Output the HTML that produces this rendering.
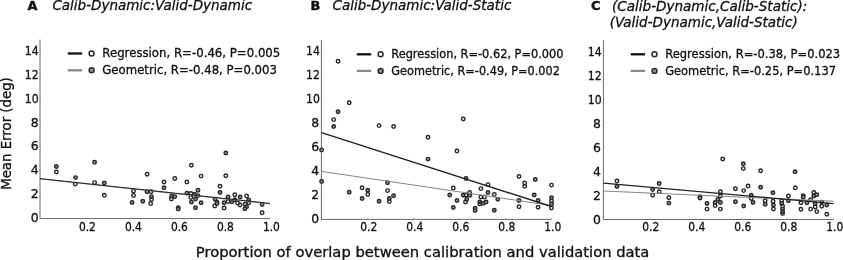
<!DOCTYPE html>
<html lang="en">
<head>
<meta charset="utf-8">
<title>Mean error vs. proportion of overlap between calibration and validation data</title>
<style>
html,body{margin:0;padding:0;background:#fff;}
body{width:843px;height:260px;overflow:hidden;}
svg{display:block;will-change:transform;}
text{font-family:"DejaVu Sans","Liberation Sans",sans-serif;fill:#111;stroke:#111;stroke-width:0.3px;}
.yt{font-size:12.4px;}
.xt{font-size:12px;}
.pl{font-family:"DejaVu Sans","Liberation Sans",sans-serif;font-weight:bold;font-size:12.8px;stroke-width:0.45px;}
.tt{font-style:italic;font-size:13.5px;}
.lg{font-size:11.7px;}
.xl{font-size:14px;}
.yl{font-size:13.3px;}
</style>
</head>
<body>
<svg width="843" height="260" viewBox="0 0 843 260">
<rect width="843" height="260" fill="#fff"/>
<g class="panel">
<path d="M40.0 39.6V218.6H270.0" fill="none" stroke="#686868" stroke-width="1"/>
<path d="M40.0 194.7h1.2 M40.0 170.9h1.2 M40.0 147.0h1.2 M40.0 123.2h1.2 M40.0 99.3h1.2 M40.0 75.4h1.2 M40.0 51.6h1.2 M86.0 218.6v-1.3 M132.0 218.6v-1.3 M178.0 218.6v-1.3 M224.0 218.6v-1.3 M270.0 218.6v-1.3" stroke="#999" stroke-width="0.7" fill="none"/>
<text class="yt" x="38.6" y="222.0" text-anchor="end">0</text>
<text class="yt" x="38.6" y="198.1" text-anchor="end">2</text>
<text class="yt" x="38.6" y="174.3" text-anchor="end">4</text>
<text class="yt" x="38.6" y="150.4" text-anchor="end">6</text>
<text class="yt" x="38.6" y="126.6" text-anchor="end">8</text>
<text class="yt" x="38.6" y="102.7" text-anchor="end" textLength="13.9" lengthAdjust="spacingAndGlyphs">10</text>
<text class="yt" x="38.6" y="78.8" text-anchor="end" textLength="13.9" lengthAdjust="spacingAndGlyphs">12</text>
<text class="yt" x="38.6" y="55.0" text-anchor="end" textLength="13.9" lengthAdjust="spacingAndGlyphs">14</text>
<text class="xt" x="87.4" y="230.5" text-anchor="middle" textLength="17" lengthAdjust="spacingAndGlyphs">0.2</text>
<text class="xt" x="133.4" y="230.5" text-anchor="middle" textLength="17" lengthAdjust="spacingAndGlyphs">0.4</text>
<text class="xt" x="179.4" y="230.5" text-anchor="middle" textLength="17" lengthAdjust="spacingAndGlyphs">0.6</text>
<text class="xt" x="225.4" y="230.5" text-anchor="middle" textLength="17" lengthAdjust="spacingAndGlyphs">0.8</text>
<text class="xt" x="271.4" y="230.5" text-anchor="middle" textLength="17" lengthAdjust="spacingAndGlyphs">1.0</text>
<text class="pl" x="27.4" y="10.35">A</text>
<text class="tt" x="52.4" y="10.3" textLength="199.8" lengthAdjust="spacingAndGlyphs">Calib-Dynamic:Valid-Dynamic</text>
<g stroke="#2a2a2a" stroke-width="1.45">
<circle cx="56.3" cy="166.5" r="1.75" fill="#959595"/>
<circle cx="56.3" cy="172" r="1.75" fill="none"/>
<circle cx="94.6" cy="162.2" r="1.75" fill="#959595"/>
<circle cx="75.6" cy="177.6" r="1.75" fill="#959595"/>
<circle cx="147.1" cy="174.2" r="1.75" fill="none"/>
<circle cx="94.6" cy="182.6" r="1.75" fill="none"/>
<circle cx="104.3" cy="182.9" r="1.75" fill="#959595"/>
<circle cx="75.2" cy="184.1" r="1.75" fill="none"/>
<circle cx="104.3" cy="195.2" r="1.75" fill="none"/>
<circle cx="133.5" cy="191" r="1.75" fill="none"/>
<circle cx="133.5" cy="195.5" r="1.75" fill="none"/>
<circle cx="132.1" cy="202.4" r="1.75" fill="#959595"/>
<circle cx="142.8" cy="201.2" r="1.75" fill="#959595"/>
<circle cx="147" cy="191.7" r="1.75" fill="#959595"/>
<circle cx="151.1" cy="191.7" r="1.75" fill="none"/>
<circle cx="151.5" cy="196.6" r="1.75" fill="#959595"/>
<circle cx="151.5" cy="199.4" r="1.75" fill="none"/>
<circle cx="150.7" cy="203.5" r="1.75" fill="none"/>
<circle cx="225.8" cy="152.9" r="1.75" fill="#959595"/>
<circle cx="191.4" cy="165.2" r="1.75" fill="none"/>
<circle cx="201.1" cy="176.1" r="1.75" fill="none"/>
<circle cx="225.8" cy="175.8" r="1.75" fill="none"/>
<circle cx="174.8" cy="178.5" r="1.75" fill="none"/>
<circle cx="164" cy="181.9" r="1.75" fill="none"/>
<circle cx="186.9" cy="181.9" r="1.75" fill="none"/>
<circle cx="164" cy="187.8" r="1.75" fill="#959595"/>
<circle cx="220" cy="186.2" r="1.75" fill="none"/>
<circle cx="220" cy="192.4" r="1.75" fill="#959595"/>
<circle cx="198" cy="190.3" r="1.75" fill="#959595"/>
<circle cx="186.9" cy="193.1" r="1.75" fill="#959595"/>
<circle cx="190.8" cy="193.4" r="1.75" fill="none"/>
<circle cx="194.6" cy="194.2" r="1.75" fill="#959595"/>
<circle cx="198" cy="195.6" r="1.75" fill="none"/>
<circle cx="190.8" cy="197.5" r="1.75" fill="none"/>
<circle cx="195.5" cy="198.9" r="1.75" fill="#959595"/>
<circle cx="191.4" cy="202.1" r="1.75" fill="#959595"/>
<circle cx="201.1" cy="202.8" r="1.75" fill="#959595"/>
<circle cx="195.5" cy="207.7" r="1.75" fill="#959595"/>
<circle cx="171.7" cy="195.9" r="1.75" fill="#959595"/>
<circle cx="174.8" cy="196.6" r="1.75" fill="#959595"/>
<circle cx="171.4" cy="198.9" r="1.75" fill="none"/>
<circle cx="178.2" cy="207.7" r="1.75" fill="#959595"/>
<circle cx="178.2" cy="209" r="1.75" fill="#959595"/>
<circle cx="215" cy="199.3" r="1.75" fill="#959595"/>
<circle cx="217" cy="202.1" r="1.75" fill="none"/>
<circle cx="217" cy="203.5" r="1.75" fill="#959595"/>
<circle cx="214.7" cy="205.9" r="1.75" fill="none"/>
<circle cx="224.1" cy="202.8" r="1.75" fill="#959595"/>
<circle cx="224.1" cy="208" r="1.75" fill="none"/>
<circle cx="228.1" cy="197" r="1.75" fill="#959595"/>
<circle cx="228.1" cy="201.4" r="1.75" fill="none"/>
<circle cx="231.8" cy="201.8" r="1.75" fill="#959595"/>
<circle cx="234.8" cy="194.8" r="1.75" fill="none"/>
<circle cx="234.8" cy="199.8" r="1.75" fill="#959595"/>
<circle cx="237.6" cy="203.1" r="1.75" fill="none"/>
<circle cx="240.1" cy="197" r="1.75" fill="#959595"/>
<circle cx="240.1" cy="204.9" r="1.75" fill="none"/>
<circle cx="246.6" cy="195.9" r="1.75" fill="none"/>
<circle cx="248.7" cy="200" r="1.75" fill="#959595"/>
<circle cx="248.7" cy="202.8" r="1.75" fill="none"/>
<circle cx="245.2" cy="204.2" r="1.75" fill="none"/>
<circle cx="246.6" cy="206.7" r="1.75" fill="#959595"/>
<circle cx="244.9" cy="208.8" r="1.75" fill="#959595"/>
<circle cx="262.1" cy="204.5" r="1.75" fill="#959595"/>
<circle cx="262.1" cy="212.8" r="1.75" fill="none"/>
</g>
<line x1="40" y1="178.9" x2="270" y2="203.9" stroke="#858585" stroke-width="1"/>
<line x1="40" y1="178.6" x2="270" y2="203.4" stroke="#222" stroke-width="1.0"/>
<line x1="67.8" y1="53.5" x2="82.2" y2="53.5" stroke="#111" stroke-width="2.3"/>
<line x1="67.8" y1="70.3" x2="82.2" y2="70.3" stroke="#8a8a8a" stroke-width="2.3"/>
<circle cx="91.6" cy="53.5" r="2.45" fill="#fff" stroke="#2a2a2a" stroke-width="1.5"/>
<circle cx="91.6" cy="70.3" r="2.45" fill="#959595" stroke="#2a2a2a" stroke-width="1.5"/>
<text class="lg" style="font-size:11.7px" x="102.3" y="57.1" textLength="178.0" lengthAdjust="spacingAndGlyphs">Regression, R=-0.46, P=0.005</text>
<text class="lg" style="font-size:11.7px" x="102.3" y="73.9" textLength="174.6" lengthAdjust="spacingAndGlyphs">Geometric, R=-0.48, P=0.003</text>
</g>
<g class="panel">
<path d="M321.4 40.1V219.4H551.4" fill="none" stroke="#686868" stroke-width="1"/>
<path d="M321.4 195.4h1.2 M321.4 171.3h1.2 M321.4 147.3h1.2 M321.4 123.2h1.2 M321.4 99.2h1.2 M321.4 75.2h1.2 M321.4 51.1h1.2 M367.4 219.4v-1.3 M413.4 219.4v-1.3 M459.4 219.4v-1.3 M505.4 219.4v-1.3 M551.4 219.4v-1.3" stroke="#999" stroke-width="0.7" fill="none"/>
<text class="yt" x="319.2" y="223.4" text-anchor="end">0</text>
<text class="yt" x="319.2" y="199.4" text-anchor="end">2</text>
<text class="yt" x="319.2" y="175.3" text-anchor="end">4</text>
<text class="yt" x="319.2" y="151.3" text-anchor="end">6</text>
<text class="yt" x="319.2" y="127.2" text-anchor="end">8</text>
<text class="yt" x="319.9" y="103.2" text-anchor="end" textLength="13.9" lengthAdjust="spacingAndGlyphs">10</text>
<text class="yt" x="319.9" y="79.2" text-anchor="end" textLength="13.9" lengthAdjust="spacingAndGlyphs">12</text>
<text class="yt" x="319.9" y="55.1" text-anchor="end" textLength="13.9" lengthAdjust="spacingAndGlyphs">14</text>
<text class="xt" x="368.8" y="230.5" text-anchor="middle" textLength="17" lengthAdjust="spacingAndGlyphs">0.2</text>
<text class="xt" x="414.8" y="230.5" text-anchor="middle" textLength="17" lengthAdjust="spacingAndGlyphs">0.4</text>
<text class="xt" x="460.8" y="230.5" text-anchor="middle" textLength="17" lengthAdjust="spacingAndGlyphs">0.6</text>
<text class="xt" x="506.8" y="230.5" text-anchor="middle" textLength="17" lengthAdjust="spacingAndGlyphs">0.8</text>
<text class="xt" x="552.8" y="230.5" text-anchor="middle" textLength="17" lengthAdjust="spacingAndGlyphs">1.0</text>
<text class="pl" x="310.4" y="10.35">B</text>
<text class="tt" x="332.5" y="10.3" textLength="178.8" lengthAdjust="spacingAndGlyphs">Calib-Dynamic:Valid-Static</text>
<g stroke="#2a2a2a" stroke-width="1.45">
<circle cx="338.1" cy="61.3" r="1.75" fill="none"/>
<circle cx="349.2" cy="102.8" r="1.75" fill="none"/>
<circle cx="338.1" cy="111.8" r="1.75" fill="#959595"/>
<circle cx="333.7" cy="119.6" r="1.75" fill="none"/>
<circle cx="333.7" cy="126.4" r="1.75" fill="#959595"/>
<circle cx="379.1" cy="125.6" r="1.75" fill="none"/>
<circle cx="393.6" cy="126.4" r="1.75" fill="none"/>
<circle cx="428" cy="137.2" r="1.75" fill="none"/>
<circle cx="321.6" cy="149.9" r="1.75" fill="none"/>
<circle cx="428" cy="159.1" r="1.75" fill="#959595"/>
<circle cx="321.6" cy="181.5" r="1.75" fill="#959595"/>
<circle cx="349.2" cy="192.2" r="1.75" fill="#959595"/>
<circle cx="362.1" cy="187.8" r="1.75" fill="none"/>
<circle cx="362.1" cy="198.5" r="1.75" fill="#959595"/>
<circle cx="367.8" cy="190.3" r="1.75" fill="#959595"/>
<circle cx="367.8" cy="194.5" r="1.75" fill="none"/>
<circle cx="379.1" cy="201.3" r="1.75" fill="#959595"/>
<circle cx="387.5" cy="182.7" r="1.75" fill="#959595"/>
<circle cx="387.5" cy="190.6" r="1.75" fill="none"/>
<circle cx="393.6" cy="195.7" r="1.75" fill="#959595"/>
<circle cx="389.3" cy="198.5" r="1.75" fill="#959595"/>
<circle cx="389.3" cy="201.6" r="1.75" fill="none"/>
<circle cx="463.3" cy="119" r="1.75" fill="none"/>
<circle cx="457" cy="150.9" r="1.75" fill="none"/>
<circle cx="466" cy="178.4" r="1.75" fill="#959595"/>
<circle cx="519" cy="176.5" r="1.75" fill="none"/>
<circle cx="535.3" cy="179.5" r="1.75" fill="#959595"/>
<circle cx="524.7" cy="183" r="1.75" fill="none"/>
<circle cx="524.7" cy="186.2" r="1.75" fill="none"/>
<circle cx="551.5" cy="185.1" r="1.75" fill="none"/>
<circle cx="488" cy="184.6" r="1.75" fill="none"/>
<circle cx="480.9" cy="188.6" r="1.75" fill="none"/>
<circle cx="453.3" cy="187.9" r="1.75" fill="none"/>
<circle cx="449.7" cy="194.9" r="1.75" fill="#959595"/>
<circle cx="457" cy="200.4" r="1.75" fill="#959595"/>
<circle cx="453.3" cy="207.5" r="1.75" fill="#959595"/>
<circle cx="463.3" cy="195.3" r="1.75" fill="#959595"/>
<circle cx="466" cy="195" r="1.75" fill="none"/>
<circle cx="469.6" cy="192.5" r="1.75" fill="none"/>
<circle cx="469.9" cy="195.3" r="1.75" fill="#959595"/>
<circle cx="466.7" cy="199.3" r="1.75" fill="#959595"/>
<circle cx="465.5" cy="202" r="1.75" fill="none"/>
<circle cx="475.1" cy="208.3" r="1.75" fill="#959595"/>
<circle cx="475.1" cy="210.6" r="1.75" fill="#959595"/>
<circle cx="480.9" cy="196.9" r="1.75" fill="none"/>
<circle cx="484.4" cy="196.9" r="1.75" fill="none"/>
<circle cx="488" cy="192.5" r="1.75" fill="#959595"/>
<circle cx="494.3" cy="194.5" r="1.75" fill="none"/>
<circle cx="497.8" cy="199.3" r="1.75" fill="#959595"/>
<circle cx="479.8" cy="202" r="1.75" fill="#959595"/>
<circle cx="479.8" cy="204" r="1.75" fill="none"/>
<circle cx="483.3" cy="203.2" r="1.75" fill="#959595"/>
<circle cx="486.1" cy="202" r="1.75" fill="#959595"/>
<circle cx="494.3" cy="210.3" r="1.75" fill="#959595"/>
<circle cx="519" cy="200.5" r="1.75" fill="#959595"/>
<circle cx="519" cy="206.7" r="1.75" fill="none"/>
<circle cx="534.2" cy="195" r="1.75" fill="#959595"/>
<circle cx="538.1" cy="200.5" r="1.75" fill="#959595"/>
<circle cx="538.1" cy="207.2" r="1.75" fill="none"/>
<circle cx="551.5" cy="197.7" r="1.75" fill="#959595"/>
<circle cx="551.5" cy="200.9" r="1.75" fill="none"/>
<circle cx="551.5" cy="204" r="1.75" fill="#959595"/>
<circle cx="551.5" cy="207.9" r="1.75" fill="none"/>
</g>
<line x1="321.5" y1="171.4" x2="551.5" y2="205.5" stroke="#858585" stroke-width="1"/>
<line x1="321.5" y1="132.6" x2="551.5" y2="206.5" stroke="#222" stroke-width="1.4"/>
<line x1="356.8" y1="54.3" x2="371.2" y2="54.3" stroke="#111" stroke-width="2.3"/>
<line x1="356.8" y1="70.9" x2="371.2" y2="70.9" stroke="#8a8a8a" stroke-width="2.3"/>
<circle cx="380.6" cy="54.3" r="2.45" fill="#fff" stroke="#2a2a2a" stroke-width="1.5"/>
<circle cx="380.6" cy="70.9" r="2.45" fill="#959595" stroke="#2a2a2a" stroke-width="1.5"/>
<text class="lg" style="font-size:11.4px" x="391.3" y="57.9" textLength="172.2" lengthAdjust="spacingAndGlyphs">Regression, R=-0.62, P=0.000</text>
<text class="lg" style="font-size:11.4px" x="391.3" y="74.5" textLength="168.6" lengthAdjust="spacingAndGlyphs">Geometric, R=-0.49, P=0.002</text>
</g>
<g class="panel">
<path d="M603.4 40.1V219.5H833.4" fill="none" stroke="#686868" stroke-width="1"/>
<path d="M603.4 195.5h1.2 M603.4 171.4h1.2 M603.4 147.4h1.2 M603.4 123.3h1.2 M603.4 99.3h1.2 M603.4 75.3h1.2 M603.4 51.2h1.2 M649.4 219.5v-1.3 M695.4 219.5v-1.3 M741.4 219.5v-1.3 M787.4 219.5v-1.3 M833.4 219.5v-1.3" stroke="#999" stroke-width="0.7" fill="none"/>
<text class="yt" x="600.9" y="223.8" text-anchor="end">0</text>
<text class="yt" x="600.9" y="199.8" text-anchor="end">2</text>
<text class="yt" x="600.9" y="175.7" text-anchor="end">4</text>
<text class="yt" x="600.9" y="151.7" text-anchor="end">6</text>
<text class="yt" x="600.9" y="127.6" text-anchor="end">8</text>
<text class="yt" x="601.6" y="103.6" text-anchor="end" textLength="13.9" lengthAdjust="spacingAndGlyphs">10</text>
<text class="yt" x="601.6" y="79.6" text-anchor="end" textLength="13.9" lengthAdjust="spacingAndGlyphs">12</text>
<text class="yt" x="601.6" y="55.5" text-anchor="end" textLength="13.9" lengthAdjust="spacingAndGlyphs">14</text>
<text class="xt" x="650.8" y="230.5" text-anchor="middle" textLength="17" lengthAdjust="spacingAndGlyphs">0.2</text>
<text class="xt" x="696.8" y="230.5" text-anchor="middle" textLength="17" lengthAdjust="spacingAndGlyphs">0.4</text>
<text class="xt" x="742.8" y="230.5" text-anchor="middle" textLength="17" lengthAdjust="spacingAndGlyphs">0.6</text>
<text class="xt" x="788.8" y="230.5" text-anchor="middle" textLength="17" lengthAdjust="spacingAndGlyphs">0.8</text>
<text class="xt" x="834.8" y="230.5" text-anchor="middle" textLength="17" lengthAdjust="spacingAndGlyphs">1.0</text>
<text class="pl" x="590.9" y="10.35">C</text>
<text class="tt" x="612.0" y="10.6" textLength="195.3" lengthAdjust="spacingAndGlyphs">(Calib-Dynamic,Calib-Static):</text>
<text class="tt" x="609.7" y="26.9" textLength="188.1" lengthAdjust="spacingAndGlyphs">(Valid-Dynamic,Valid-Static)</text>
<g stroke="#2a2a2a" stroke-width="1.45">
<circle cx="617" cy="181" r="1.75" fill="none"/>
<circle cx="617" cy="186.4" r="1.75" fill="#959595"/>
<circle cx="659.2" cy="183.4" r="1.75" fill="#959595"/>
<circle cx="652.7" cy="189.6" r="1.75" fill="#959595"/>
<circle cx="652.7" cy="195.2" r="1.75" fill="none"/>
<circle cx="659.2" cy="191.7" r="1.75" fill="none"/>
<circle cx="668.9" cy="197.7" r="1.75" fill="none"/>
<circle cx="668.9" cy="203.1" r="1.75" fill="#959595"/>
<circle cx="700" cy="196.6" r="1.75" fill="#959595"/>
<circle cx="700" cy="198" r="1.75" fill="#959595"/>
<circle cx="707" cy="203.5" r="1.75" fill="#959595"/>
<circle cx="707" cy="209.1" r="1.75" fill="none"/>
<circle cx="715.1" cy="202.4" r="1.75" fill="#959595"/>
<circle cx="715.1" cy="205.6" r="1.75" fill="none"/>
<circle cx="717.9" cy="199.3" r="1.75" fill="#959595"/>
<circle cx="722.7" cy="158.9" r="1.75" fill="none"/>
<circle cx="743.3" cy="163.8" r="1.75" fill="#959595"/>
<circle cx="743.3" cy="168.6" r="1.75" fill="none"/>
<circle cx="760.6" cy="170.7" r="1.75" fill="none"/>
<circle cx="795.1" cy="171.8" r="1.75" fill="#959595"/>
<circle cx="720.4" cy="191.7" r="1.75" fill="none"/>
<circle cx="720.4" cy="195.9" r="1.75" fill="none"/>
<circle cx="720.4" cy="202.5" r="1.75" fill="#959595"/>
<circle cx="720.4" cy="209.1" r="1.75" fill="none"/>
<circle cx="735.4" cy="188.7" r="1.75" fill="none"/>
<circle cx="735.4" cy="201.8" r="1.75" fill="#959595"/>
<circle cx="743.7" cy="190.6" r="1.75" fill="none"/>
<circle cx="743.7" cy="205.9" r="1.75" fill="#959595"/>
<circle cx="748.1" cy="185.9" r="1.75" fill="none"/>
<circle cx="751.2" cy="195.2" r="1.75" fill="#959595"/>
<circle cx="751.2" cy="198.4" r="1.75" fill="none"/>
<circle cx="753" cy="202.5" r="1.75" fill="#959595"/>
<circle cx="760.6" cy="187.3" r="1.75" fill="#959595"/>
<circle cx="765.2" cy="200.7" r="1.75" fill="none"/>
<circle cx="765.2" cy="204.2" r="1.75" fill="#959595"/>
<circle cx="772.9" cy="192.7" r="1.75" fill="#959595"/>
<circle cx="773.1" cy="201.3" r="1.75" fill="none"/>
<circle cx="773.4" cy="205.1" r="1.75" fill="#959595"/>
<circle cx="773.4" cy="208.9" r="1.75" fill="none"/>
<circle cx="781.7" cy="200.7" r="1.75" fill="none"/>
<circle cx="781.7" cy="203.5" r="1.75" fill="#959595"/>
<circle cx="782.6" cy="206.3" r="1.75" fill="none"/>
<circle cx="782.6" cy="209.1" r="1.75" fill="#959595"/>
<circle cx="782.6" cy="211.8" r="1.75" fill="none"/>
<circle cx="782.6" cy="213.6" r="1.75" fill="none"/>
<circle cx="788.4" cy="195.9" r="1.75" fill="none"/>
<circle cx="788.4" cy="200.7" r="1.75" fill="#959595"/>
<circle cx="795.3" cy="187.8" r="1.75" fill="none"/>
<circle cx="800.9" cy="202.8" r="1.75" fill="none"/>
<circle cx="800.9" cy="209.3" r="1.75" fill="none"/>
<circle cx="803.2" cy="195.6" r="1.75" fill="#959595"/>
<circle cx="803.2" cy="197.3" r="1.75" fill="#959595"/>
<circle cx="806.9" cy="202.8" r="1.75" fill="#959595"/>
<circle cx="810.6" cy="199.8" r="1.75" fill="none"/>
<circle cx="810.6" cy="209.1" r="1.75" fill="none"/>
<circle cx="813.8" cy="192.4" r="1.75" fill="none"/>
<circle cx="813.8" cy="195.9" r="1.75" fill="#959595"/>
<circle cx="816.8" cy="194.8" r="1.75" fill="#959595"/>
<circle cx="815.2" cy="203.5" r="1.75" fill="#959595"/>
<circle cx="815.2" cy="207" r="1.75" fill="none"/>
<circle cx="816.8" cy="211.6" r="1.75" fill="none"/>
<circle cx="821.7" cy="202.1" r="1.75" fill="#959595"/>
<circle cx="821.7" cy="206.3" r="1.75" fill="none"/>
<circle cx="826.8" cy="204.9" r="1.75" fill="#959595"/>
<circle cx="826.8" cy="214.2" r="1.75" fill="none"/>
</g>
<line x1="603.5" y1="191.0" x2="833.5" y2="201.2" stroke="#858585" stroke-width="1"/>
<line x1="603.5" y1="183.1" x2="833.5" y2="203.6" stroke="#222" stroke-width="1.25"/>
<line x1="630.6999999999999" y1="54.3" x2="645.1" y2="54.3" stroke="#111" stroke-width="2.3"/>
<line x1="630.6999999999999" y1="70.9" x2="645.1" y2="70.9" stroke="#8a8a8a" stroke-width="2.3"/>
<circle cx="654.5" cy="54.3" r="2.45" fill="#fff" stroke="#2a2a2a" stroke-width="1.5"/>
<circle cx="654.5" cy="70.9" r="2.45" fill="#959595" stroke="#2a2a2a" stroke-width="1.5"/>
<text class="lg" style="font-size:11.5px" x="665.1999999999999" y="57.9" textLength="175.0" lengthAdjust="spacingAndGlyphs">Regression, R=-0.38, P=0.023</text>
<text class="lg" style="font-size:11.5px" x="665.1999999999999" y="74.5" textLength="170.8" lengthAdjust="spacingAndGlyphs">Geometric, R=-0.25, P=0.137</text>
</g>
<text class="xl" x="195.8" y="256.6" textLength="453.6" lengthAdjust="spacingAndGlyphs">Proportion of overlap between calibration and validation data</text>
<text class="yl" transform="translate(11.2 189.8) rotate(-90)" textLength="112.6" lengthAdjust="spacingAndGlyphs">Mean Error (deg)</text>
</svg>
</body>
</html>
